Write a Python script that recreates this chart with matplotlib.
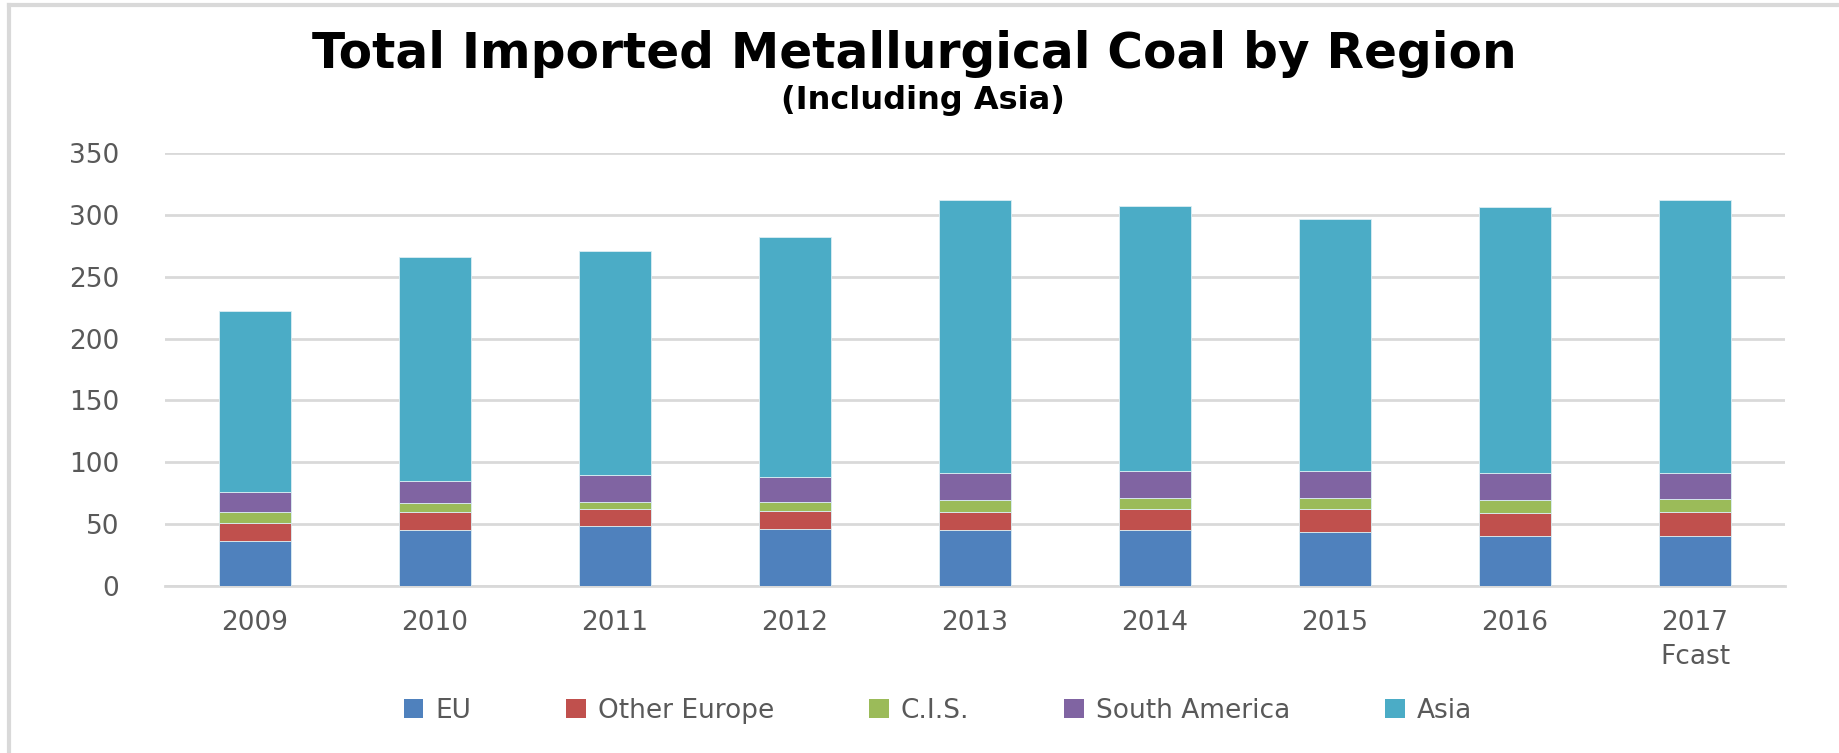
import numpy as np
import matplotlib.pyplot as plt
from matplotlib.lines import Line2D
from matplotlib.patches import Patch

# Imported metallurgical coal by region (Mt), stacked bottom to top
years = ["2009", "2010", "2011", "2012", "2013", "2014", "2015", "2016", "2017\nFcast"]
eu = [36, 45, 48.5, 46, 45, 45, 44, 40.5, 40.5]
other_europe = [15, 15, 14, 15, 15, 17.5, 18.5, 18.5, 19.5]
cis = [9, 7, 5.5, 6.5, 9.5, 9, 9, 10.5, 10.5]
south_america = [16, 18, 22, 20.5, 21.5, 21.5, 21.5, 21.5, 20.5]
asia = [146.5, 181, 180.5, 194, 221, 214, 204, 215, 221]

series = [
    ("EU", eu, "#4F81BD"),
    ("Other Europe", other_europe, "#C0504D"),
    ("C.I.S.", cis, "#9BBB59"),
    ("South America", south_america, "#8064A2"),
    ("Asia", asia, "#4BACC6"),
]

plt.rcParams['font.family'] = ['DejaVu Sans']
grey = "#595959"
grid = "#d9d9d9"

fig = plt.figure(figsize=(18.39, 7.53), dpi=100)
ax = fig.add_axes([165 / 1839, 1 - 586 / 753, 1620 / 1839, 433 / 753])

x = np.arange(len(years))
bottom = np.zeros(len(years))
for name, vals, color in series:
    ax.bar(x, vals, width=0.40, bottom=bottom, color=color,
           edgecolor="#dbeef3", linewidth=0.6, label=name, zorder=3)
    bottom += np.array(vals)

ax.set_xlim(-0.5, len(years) - 0.5)
ax.set_ylim(0, 350)
ax.set_yticks(range(0, 351, 50))
ax.yaxis.grid(True, color=grid, linewidth=2, zorder=0)
for s in ["top", "right", "left"]:
    ax.spines[s].set_visible(False)
ax.spines["bottom"].set_color(grid)
ax.spines["bottom"].set_linewidth(2)
ax.tick_params(length=0, colors=grey, labelsize=19)
ax.tick_params(axis="y", pad=33)
ax.tick_params(axis="x", pad=17)
ax.set_xticks(x)
ax.set_xticklabels(years, linespacing=1.4)

fig.text(0.497, 1 - 54 / 753, "Total Imported Metallurgical Coal by Region",
         ha="center", va="center", fontsize=35, fontweight="bold", color="black")
fig.text(0.502, 1 - 101 / 753, "(Including Asia)",
         ha="center", va="center", fontsize=23, fontweight="bold", color="black")

handles = [Patch(facecolor=c, edgecolor="none", label=n) for n, _, c in series]
fig.legend(handles=handles, loc="center", bbox_to_anchor=(0.51, 1 - 711 / 753),
           ncol=5, frameon=False, fontsize=19, labelcolor=grey,
           handlelength=0.75, handleheight=0.75, handletextpad=0.45, columnspacing=3.6)

# light chart-area border on top and left
fig.add_artist(Line2D([9 / 1839, 9 / 1839], [0, 1 - 5 / 753], color=grid, linewidth=3))
fig.add_artist(Line2D([9 / 1839, 1], [1 - 5 / 753, 1 - 5 / 753], color=grid, linewidth=3))

fig.savefig("out.png", dpi=100, facecolor="white")
